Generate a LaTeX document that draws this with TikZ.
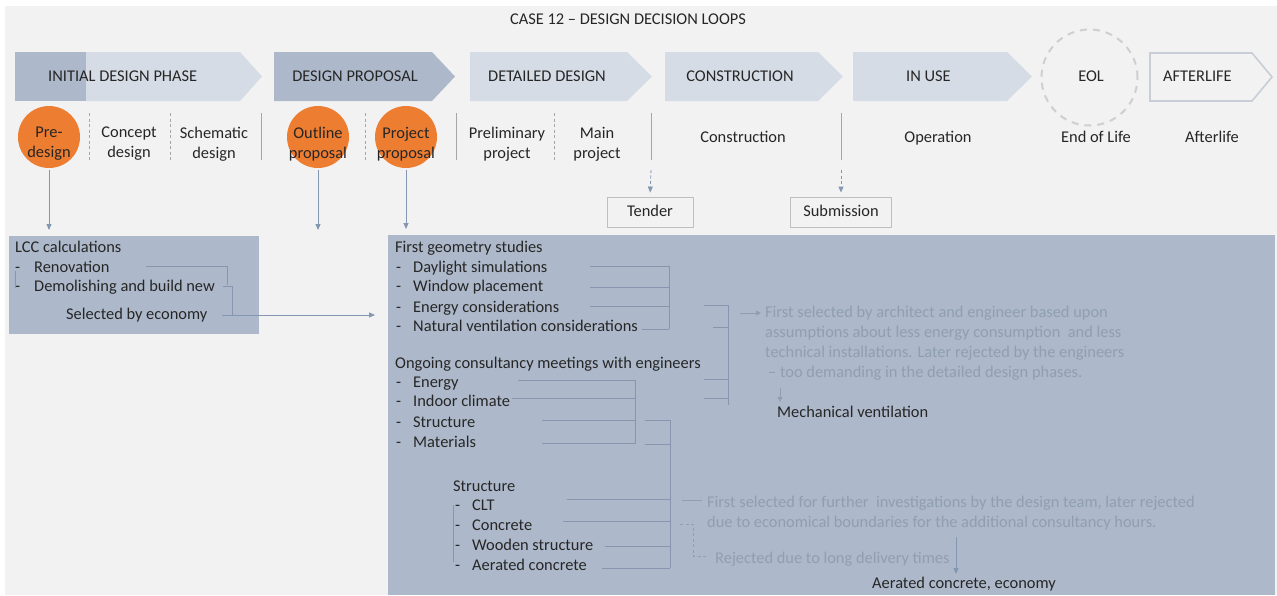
\documentclass[tikz,border=0pt]{standalone}
\usepackage{fontspec}
\setmainfont{Carlito}
\usetikzlibrary{arrows.meta}
\definecolor{bgc}{HTML}{F2F2F2}
\definecolor{boxc}{HTML}{ADB9CA}
\definecolor{lightc}{HTML}{D6DCE5}
\definecolor{orangec}{HTML}{ED7D31}
\definecolor{txtc}{HTML}{262626}
\definecolor{fadec}{HTML}{909EB2}
\definecolor{brc}{HTML}{8796AE}
\definecolor{arrc}{HTML}{8497B0}
\definecolor{sepc}{HTML}{A6A6A6}
\definecolor{eolc}{HTML}{CFCFCF}
\definecolor{tboxc}{HTML}{BFBFBF}
\begin{document}
\begin{tikzpicture}[x=1pt,y=-1pt,
  lbl/.style={font=\fontsize{16.4}{20}\selectfont, text=txtc, inner sep=0pt, text height=12pt, text depth=3.5pt},
  lft/.style={lbl, anchor=west},
  ctr/.style={lbl, align=center, text height=, text depth=},
  fade/.style={lft, text=fadec},
  brk/.style={draw=brc, line width=0.8pt},
  sepl/.style={draw=sepc, line width=0.8pt},
  dsepl/.style={sepl, dash pattern=on 3pt off 2.5pt},
  arr/.style={draw=arrc, line width=0.9pt, -{Triangle[length=6pt,width=5pt]}},
  farr/.style={draw=fadec, line width=0.9pt, -{Triangle[length=5pt,width=4.5pt]}},
  orb/.style={circle, fill=orangec, minimum size=62pt, inner sep=0pt},
  tbox/.style={lbl, draw=tboxc, line width=0.9pt, fill=bgc, minimum width=86pt, minimum height=30pt}
]
\useasboundingbox (0,0) rectangle (1277,595);
\fill[white] (0,0) rectangle (1277,595);
\fill[bgc] (5,6) rectangle (1277,595);

% title
\node[lbl] (title) at (628,20) {CASE 12 -- DESIGN DECISION LOOPS};

% phase chevrons
\fill[lightc] (86,52) -- (240,52) -- (262,76.5) -- (240,101) -- (86,101) -- cycle;
\fill[boxc] (15,52) rectangle (86,101);
\fill[boxc] (274,52) -- (432,52) -- (455,76.5) -- (432,101) -- (274,101) -- cycle;
\fill[lightc] (470,52) -- (627,52) -- (652,76.5) -- (627,101) -- (470,101) -- cycle;
\fill[lightc] (665,52) -- (818,52) -- (843,76.5) -- (818,101) -- (665,101) -- cycle;
\fill[lightc] (853,52) -- (1007,52) -- (1032,76.5) -- (1007,101) -- (853,101) -- cycle;
\draw[draw=lightc!85!gray, line width=1.6pt] (1150,53) -- (1252,53) -- (1272,77) -- (1252,101) -- (1150,101) -- cycle;
\node[circle, draw=eolc, line width=2pt, dash pattern=on 7pt off 6pt, minimum size=96pt, inner sep=0pt] (eolc) at (1089.5,77.5) {};

\node[lft] (p1) at (48,77) {INITIAL DESIGN PHASE};
\node[lbl] (p2) at (355,77) {DESIGN PROPOSAL};
\node[lbl] (p3) at (547,77) {DETAILED DESIGN};
\node[lbl] (p4) at (740,77) {CONSTRUCTION};
\node[lft] (p5) at (906,77) {IN USE};
\node[lbl] (p6) at (1091,77) {EOL};
\node[lft] (p7) at (1163,77) {AFTERLIFE};

% orange circles
\node[orb] (pre) at (49,137) {};
\node[orb] (outl) at (318,137) {};
\node[orb] (proj) at (406,137) {};
\node[ctr] (pretxt) at (49,144) {Pre-\\design};
\node[ctr] (outltxt) at (318,144) {Outline\\proposal};
\node[ctr] (projtxt) at (406,144) {Project\\proposal};
\node[ctr] (concept) at (129,144) {Concept\\design};
\node[ctr] (schem) at (214,144) {Schematic\\design};
\node[ctr] (prelim) at (507,144) {Preliminary\\project};
\node[ctr] (mainp) at (597,144) {Main\\project};
\node[lbl] (constr) at (743,138) {Construction};
\node[lbl] (oper) at (938,138) {Operation};
\node[lbl] (eol) at (1096,138) {End of Life};
\node[lbl] (after) at (1212,138) {Afterlife};

% separators
\draw[dsepl] (89,113) -- (89,160);
\draw[dsepl] (170,113) -- (170,160);
\draw[sepl] (261,113) -- (261,160);
\draw[dsepl] (365,113) -- (365,160);
\draw[sepl] (456,113) -- (456,160);
\draw[dsepl] (554,113) -- (554,160);
\draw[sepl] (651,113) -- (651,160);
\draw[sepl] (841,113) -- (841,160);
\coordinate (s3) at (651,170);
\coordinate (s4) at (841,170);

% tender / submission
\node[tbox] (tender) at (650,212) {Tender};
\node[tbox, minimum width=101pt] (subm) at (841,212) {Submission};
\draw[arr, dash pattern=on 3pt off 2.5pt, shorten >=4pt] (s3) -- (tender.north);
\draw[arr, dash pattern=on 3pt off 2.5pt, shorten >=4pt] (s4) -- (subm.north);

% boxes
\node[fill=boxc, inner sep=0pt, minimum width=250pt, minimum height=98pt, anchor=north west] (lcc) at (9,236) {};
\node[fill=boxc, inner sep=0pt, minimum width=887pt, minimum height=360pt, anchor=north west] (main) at (388,235) {};

\draw[arr, shorten <=2pt, shorten >=6pt] (pre.south) -- (pre.south |- lcc.north);
\draw[arr, shorten <=2pt, shorten >=6pt] (outl.south) -- (outl.south |- lcc.north);
\draw[arr, shorten <=2pt, shorten >=6pt] (proj.south) -- (proj.south |- main.north);

% LCC content
\node[lft] (lcct) at (15,248) {LCC calculations};
\node[lft] (lcc1) at (15,268) {\makebox[19pt][l]{-}Renovation};
\node[lft] (lcc2) at (15,287) {\makebox[19pt][l]{-}Demolishing and build new};
\node[lft] (lcc3) at (66,315) {Selected by economy};
\draw[brk, line width=0.5pt] (15,271) -- (15,288);
\draw[brk] (146,266) -- (227,266) -- (227,285);
\draw[brk] (223,286) -- (232,286) -- (232,315);
\coordinate (lccout) at (222,315);
\draw[arr, shorten >=13pt] (lccout) -- (main.west |- lccout);

% main box content
\node[lft] (fg) at (395,248) {First geometry studies};
\node[lft] (fg1) at (396,268) {\makebox[17pt][l]{-}Daylight simulations};
\node[lft] (fg2) at (396,287) {\makebox[17pt][l]{-}Window placement};
\node[lft] (fg3) at (396,308) {\makebox[17pt][l]{-}Energy considerations};
\node[lft] (fg4) at (396,327) {\makebox[17pt][l]{-}Natural ventilation considerations};
\node[lft] (oc) at (395,364) {Ongoing consultancy meetings with engineers};
\node[lft] (oc1) at (396,383) {\makebox[17pt][l]{-}Energy};
\node[lft] (oc2) at (396,402) {\makebox[17pt][l]{-}Indoor climate};
\node[lft] (oc3) at (396,423) {\makebox[17pt][l]{-}Structure};
\node[lft] (oc4) at (396,443) {\makebox[17pt][l]{-}Materials};
\node[lft] (st) at (453,487) {Structure};
\node[lft] (st1) at (455,506) {\makebox[17pt][l]{-}CLT};
\node[lft] (st2) at (455,526) {\makebox[17pt][l]{-}Concrete};
\node[lft] (st3) at (455,546) {\makebox[17pt][l]{-}Wooden structure};
\node[lft] (st4) at (455,566) {\makebox[17pt][l]{-}Aerated concrete};
\draw[brk, line width=0.5pt] (453,505) -- (453,562);

% brackets group 1
\draw[brk] (590,266) -- (669,266);
\draw[brk] (590,287) -- (669,287);
\draw[brk] (590,306) -- (669,306);
\draw[brk] (642,329) -- (669,329);
\draw[brk] (669,266) -- (669,329);
% group 2
\draw[brk] (704,305) -- (728,305);
\draw[brk] (713,327) -- (728,327);
\draw[brk] (704,379) -- (728,379);
\draw[brk] (704,398) -- (728,398);
\draw[brk] (728,305) -- (728,405);
% group 3
\draw[brk] (518,380) -- (635,380);
\draw[brk] (512,398) -- (635,398);
\draw[brk] (542,420) -- (635,420);
\draw[brk] (542,443) -- (635,443);
\draw[brk] (635,380) -- (635,444);
% group 4
\draw[brk] (645,420) -- (670,420);
\draw[brk] (645,444) -- (670,444);
\draw[brk] (670,420) -- (670,568);
\draw[brk] (567,499) -- (670,499);
\draw[brk] (563,521) -- (670,521);
\draw[brk] (605,546) -- (670,546);
\draw[brk] (602,568) -- (670,568);

% faded comments
\node[fade] (fa1) at (765,313) {First selected by architect and engineer based upon};
\node[fade] (fa2) at (765,333) {assumptions about less energy consumption\ \ and less};
\node[fade] (fa3) at (765,353) {technical installations. Later rejected by the engineers};
\node[fade] (fa4) at (768,373) {-- too demanding in the detailed design phases.};
\coordinate (g2out) at (740,313);
\draw[farr, shorten >=4pt] (g2out) -- (fa1.west);
\node[lft] (mech) at (777,413) {Mechanical ventilation};
\coordinate (mechin) at (780,388);
\draw[farr, shorten >=3pt] (mechin) -- (mechin |- mech.north);

\node[fade] (fb1) at (707,503) {First selected for further\ \ investigations by the design team, later rejected};
\node[fade] (fb2) at (707,523) {due to economical boundaries for the additional consultancy hours.};
\node[fade] (fb3) at (715,559) {Rejected due to long delivery times};
\draw[draw=fadec, line width=0.8pt] (682,500) -- (702,500);
\draw[draw=fadec, line width=0.8pt, dash pattern=on 3pt off 2.5pt] (680,524) -- (693,524) -- (693,556) -- (707,556);
\node[lft] (aer) at (872,584) {Aerated concrete, economy};
\coordinate (aerin) at (956,537);
\draw[arr, shorten >=2pt] (aerin) -- (aerin |- aer.north);
\end{tikzpicture}
\end{document}
